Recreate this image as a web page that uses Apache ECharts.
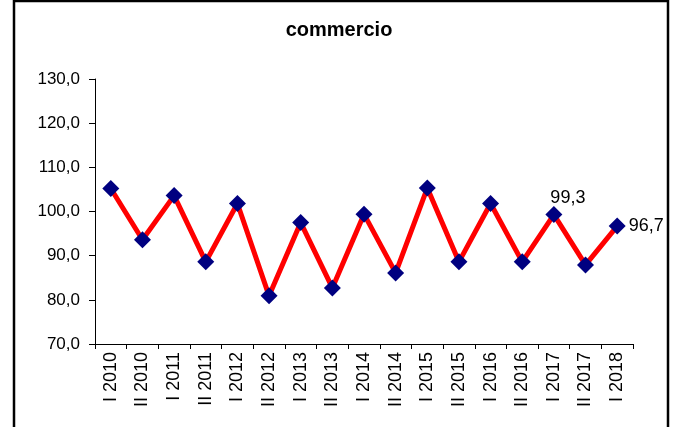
<!DOCTYPE html>
<html>
<head>
<meta charset="utf-8">
<script src="https://cdn.jsdelivr.net/npm/echarts@6/dist/echarts.min.js"></script>
<style>
html,body{margin:0;padding:0;background:#fff;}
#chart{width:678px;height:427px;}
</style>
</head>
<body>
<div id="chart"></div>
<script>
var titleText = 'commercio';
var categories = ['I 2010','II 2010','I 2011','II 2011','I 2012','II 2012','I 2013','II 2013','I 2014','II 2014','I 2015','II 2015','I 2016','II 2016','I 2017','II 2017','I 2018'];
var values = [105.2, 93.6, 103.6, 88.6, 101.8, 80.9, 97.5, 82.7, 99.4, 86.1, 105.3, 88.6, 101.8, 88.6, 99.3, 87.9, 96.7];
var labelledIndices = [14, 16];
var yTicks = [70, 80, 90, 100, 110, 120, 130];

function fmt(v){ return v.toFixed(1).replace('.', ','); }

var FONT = '"Liberation Sans", Arial, sans-serif';
var data = values.map(function(v, i){
  var item = {value: v};
  if (labelledIndices.indexOf(i) >= 0) {
    var isLast = i === values.length - 1;
    item.label = {
      show: true,
      position: isLast ? 'right' : 'top',
      offset: isLast ? [-3, 0] : [14, 7],
      distance: 6,
      formatter: function(p){ return fmt(p.value); },
      fontSize: 18,
      fontFamily: FONT,
      color: '#000'
    };
  }
  return item;
});

var chart = echarts.init(document.getElementById('chart'));
chart.setOption({
  animation: false,
  backgroundColor: '#fff',
  title: {
    text: titleText,
    left: 'center',
    top: 15,
    textStyle: {fontSize: 20, fontWeight: 'bold', fontFamily: FONT, color: '#000'}
  },
  graphic: [{
    type: 'rect',
    shape: {x: 14, y: 1, width: 654, height: 500},
    style: {fill: 'none', stroke: '#000', lineWidth: 2.5},
    silent: true
  }],
  grid: {left: 95, right: 45, top: 79, bottom: 83},
  xAxis: {
    type: 'category',
    data: categories,
    boundaryGap: true,
    axisLine: {lineStyle: {color: '#000', width: 1}},
    axisTick: {show: true, length: 5, inside: false, lineStyle: {color: '#000'}},
    axisLabel: {rotate: 90, fontSize: 18, fontFamily: FONT, color: '#000', margin: 8, interval: 0}
  },
  yAxis: {
    type: 'value',
    min: yTicks[0],
    max: yTicks[yTicks.length - 1],
    interval: 10,
    splitLine: {show: false},
    axisLine: {show: true, lineStyle: {color: '#000', width: 1}},
    axisTick: {show: true, length: 6, lineStyle: {color: '#000'}},
    axisLabel: {fontSize: 17, fontFamily: FONT, color: '#000', margin: 15, formatter: function(v){ return fmt(v); }}
  },
  series: [{
    type: 'line',
    data: data,
    symbol: 'diamond',
    symbolSize: 17,
    itemStyle: {color: '#000080'},
    lineStyle: {color: '#ff0000', width: 5},
    z: 3
  }]
});
</script>
</body>
</html>
